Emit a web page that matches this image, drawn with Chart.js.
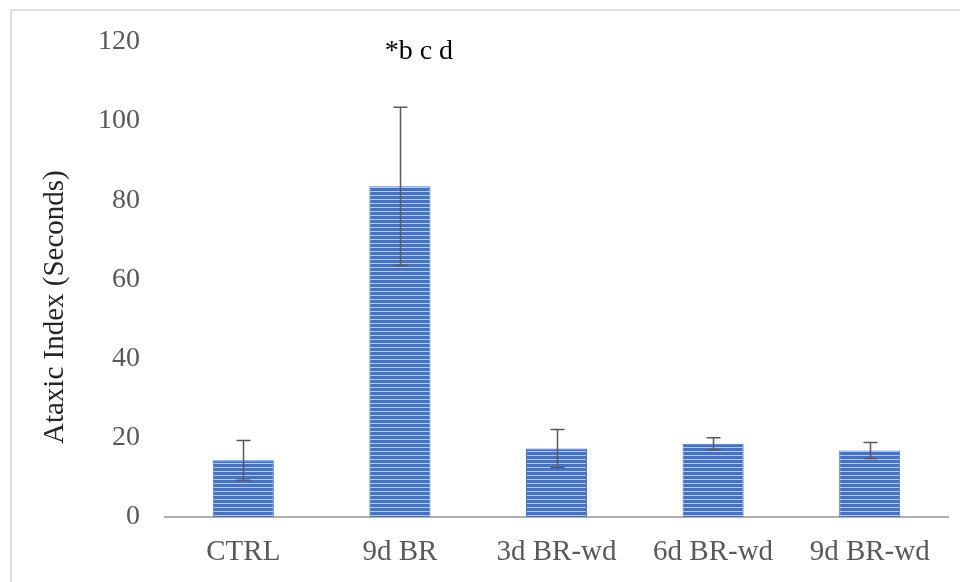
<!DOCTYPE html>
<html lang="en">
<head>
  <meta charset="UTF-8">
  <title>Ataxic Index</title>
  <script src="https://cdn.jsdelivr.net/npm/chart.js"></script>
  <style>
    html, body {
      margin: 0;
      padding: 0;
      background-color: #FFFFFF;
    }

    .frame {
      position: relative;
      width: 960px;
      height: 582px;
      overflow: hidden;
    }

    .frame::before {
      content: "";
      position: absolute;
      left: 10px;
      top: 9px;
      right: -10px;
      bottom: -10px;
      border-top: 2px solid #DDDDDD;
      border-left: 2px solid #DDDDDD;
      pointer-events: none;
    }

    #ataxiaChart {
      position: absolute;
      left: 0;
      top: 0;
    }
  </style>
</head>
<body>

<div class="frame">
  <canvas id="ataxiaChart" width="960" height="582"></canvas>
</div>

<script>
  // datos
  const grupos = ['CTRL', '9d BR', '3d BR-wd', '6d BR-wd', '9d BR-wd'];
  const medias = [14.3, 83.5, 17.3, 18.5, 16.8];
  const errores = [5.0, 20.0, 4.8, 1.5, 2.0];
  const marcas = ['', '*b c d', '', '', ''];
  const ticksY = [0, 20, 40, 60, 80, 100, 120];
  const tituloY = 'Ataxic Index (Seconds)';

  const fuente = '"Liberation Serif", "Times New Roman", serif';

  // relleno rayado horizontal
  function rayado() {
    const c = document.createElement('canvas');
    c.width = 4;
    c.height = 4;
    const g = c.getContext('2d');
    g.fillStyle = '#4472C4';
    g.fillRect(0, 0, 4, 4);
    g.fillStyle = '#B4C7EC';
    g.fillRect(0, 3, 4, 1);
    return g.createPattern(c, 'repeat');
  }

  const barrasError = {
    id: 'barrasError',
    afterDatasetsDraw(chart) {
      const ctx = chart.ctx;
      const meta = chart.getDatasetMeta(0);
      const y = chart.scales.y;
      ctx.save();
      ctx.strokeStyle = '#595959';
      ctx.lineWidth = 1.5;
      meta.data.forEach((bar, i) => {
        const x = Math.round(bar.x) + 0.5;
        const arriba = y.getPixelForValue(medias[i] + errores[i]);
        const abajo = y.getPixelForValue(medias[i] - errores[i]);
        ctx.beginPath();
        ctx.moveTo(x, arriba);
        ctx.lineTo(x, abajo);
        ctx.moveTo(x - 7, arriba);
        ctx.lineTo(x + 7, arriba);
        ctx.moveTo(x - 7, abajo);
        ctx.lineTo(x + 7, abajo);
        ctx.stroke();
        if (marcas[i]) {
          ctx.fillStyle = '#000000';
          ctx.font = '28px ' + fuente;
          ctx.textAlign = 'center';
          ctx.textBaseline = 'middle';
          ctx.fillText(marcas[i], bar.x + 19, y.getPixelForValue(117.5));
        }
      });

      // titulo del eje y, un poco bajo el centro como en la figura
      ctx.fillStyle = '#262626';
      ctx.font = '29px ' + fuente;
      ctx.textAlign = 'center';
      ctx.textBaseline = 'middle';
      ctx.translate(55, y.getPixelForValue(53));
      ctx.rotate(-Math.PI / 2);
      ctx.fillText(tituloY, 0, 0);
      ctx.restore();
    }
  };

  const ctx = document.getElementById('ataxiaChart').getContext('2d');
  const chart = new Chart(ctx, {
    type: 'bar',
    data: {
      labels: grupos,
      datasets: [{
        label: 'Ataxic Index',
        data: medias,
        backgroundColor: rayado(),
        borderColor: '#4472C4',
        borderWidth: 1,
        categoryPercentage: 1,
        barPercentage: 0.39
      }]
    },
    options: {
      responsive: false,
      animation: false,
      layout: {
        padding: { left: 0, right: 12, top: 36, bottom: 0 }
      },
      scales: {
        y: {
          min: 0,
          max: 120,
          afterBuildTicks(axis) {
            axis.ticks = ticksY.map(v => ({ value: v }));
          },
          afterFit(axis) {
            axis.width = 165;
          },
          grid: { display: false, drawTicks: false },
          border: { display: false },
          ticks: {
            color: '#595959',
            padding: 25,
            font: { family: fuente, size: 28 }
          }
        },
        x: {
          afterFit(axis) {
            axis.height = 65;
          },
          grid: { display: false, drawTicks: false },
          border: { display: true, color: '#B0B0B0', width: 2 },
          ticks: {
            color: '#595959',
            padding: 18,
            font: { family: fuente, size: 29 }
          }
        }
      },
      plugins: {
        legend: { display: false },
        tooltip: { enabled: false }
      }
    },
    plugins: [barrasError]
  });
</script>

</body>
</html>
